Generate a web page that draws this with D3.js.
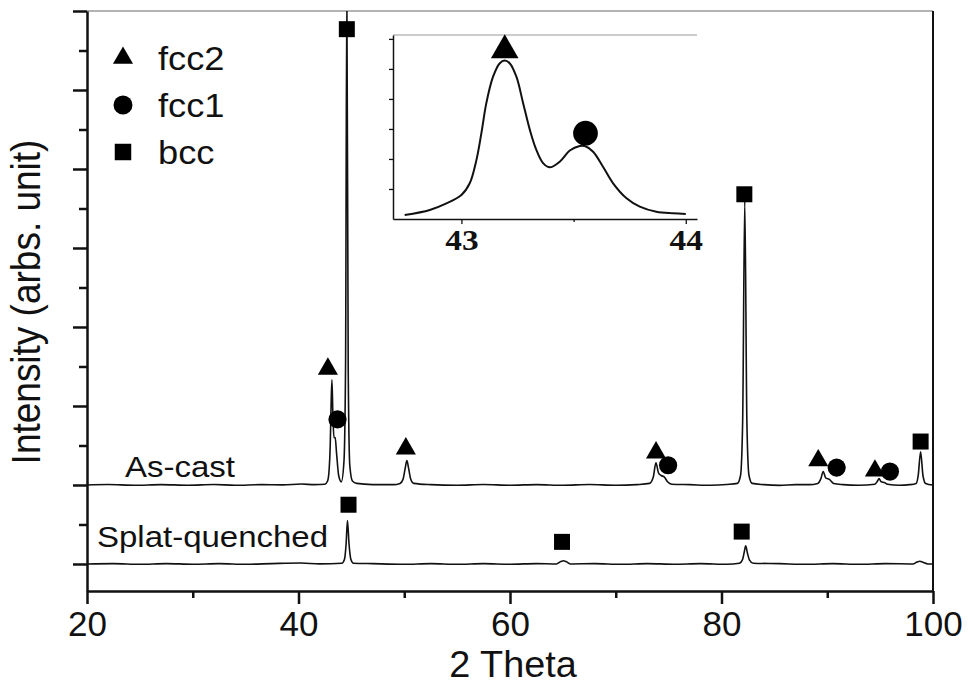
<!DOCTYPE html>
<html>
<head>
<meta charset="utf-8">
<script src="https://cdn.jsdelivr.net/npm/d3@7"></script>
<style>
  body { margin: 0; background: #fff; }
  svg { display: block; }
  .sans { font-family: "Liberation Sans", Arial, sans-serif; fill: #111; }
  .serif { font-family: "Liberation Serif", "Times New Roman", serif; font-weight: bold; fill: #111; }
</style>
</head>
<body>
<svg id="chart" width="971" height="693"></svg>
<script>
// ---- data (2 Theta in degrees, intensity in arbitrary units above each pattern's baseline) ----
const asCastTheta = [20, 22, 24.5, 27, 29.5, 32, 34, 36.5, 38.5, 40.3, 41.5, 42.5, 42.75, 42.9, 43.0, 43.08, 43.16, 43.25, 43.35, 43.47, 43.6, 43.8, 44.05,
  44.3, 44.45, 44.57, 44.7, 44.85, 45.1, 45.5, 47, 49, 49.6, 49.9, 50.1, 50.25, 50.4, 50.6, 50.9, 52.5, 55, 57.5, 60, 62.5, 65, 67.5, 70, 72,
  73.2, 73.55, 73.8, 74.05, 74.3, 74.6, 74.9, 75.3, 77, 79, 80.5, 81.5, 81.8, 82.0, 82.2, 82.4, 82.6, 82.9, 84, 85.5, 87, 88.3,
  89.1, 89.4, 89.62, 89.85, 90.2, 90.6, 91.5, 93, 94.5, 94.75, 94.9, 95.1, 95.4, 95.7, 96.8, 97.8, 98.4, 98.6, 98.83, 99.05, 99.3, 100];
const asCastInt = [0, 0.006, -0.004, 0.005, -0.003, 0.006, -0.004, 0.005, 0.002, 0.012, 0.004, 0.01, 0.05, 0.2, 0.5, 1.0, 1.33, 0.9, 0.6, 0.6, 0.4, 0.12, 0.04,
  0.3, 1.5, 6.3, 1.5, 0.25, 0.05, 0.02, 0.005, 0.004, 0.02, 0.08, 0.22, 0.31, 0.22, 0.08, 0.02, 0.004, -0.004, 0.006, -0.003, 0.005, -0.004, 0.006, -0.004, 0.005,
  0.02, 0.1, 0.28, 0.15, 0.12, 0.1, 0.04, 0.01, 0.004, -0.004, 0.006, 0.02, 0.12, 0.8, 3.6, 0.8, 0.12, 0.02, 0.004, -0.005, 0.005, 0.004,
  0.02, 0.08, 0.17, 0.09, 0.07, 0.02, 0.005, -0.004, 0.01, 0.05, 0.08, 0.04, 0.03, 0.01, -0.004, 0.004, 0.02, 0.12, 0.42, 0.12, 0.02, 0];

const splatTheta = [20, 22.5, 25, 27.5, 30, 32.5, 35, 37.5, 40.2, 42, 44.1, 44.35, 44.5, 44.63, 44.78, 44.95, 45.2, 47, 50, 52.5, 55, 57.5, 60, 62.5,
  64.4, 64.8, 65.05, 65.3, 65.7, 68, 70.5, 73, 75.5, 78, 80.5, 81.7, 82.0, 82.15, 82.29, 82.45, 82.65, 83.0, 85.5, 88, 90.5, 93, 95.5,
  98.1, 98.5, 98.75, 99.1, 99.5, 100];
const splatInt = [0, 0.004, -0.004, 0.005, -0.003, 0.004, -0.004, 0.005, 0.012, 0.002, 0.01, 0.06, 0.25, 0.55, 0.25, 0.06, 0.01, 0.004, -0.004, 0.005, -0.004, 0.004, -0.003, 0.005,
  0, 0.03, 0.04, 0.03, 0, 0.004, -0.004, 0.005, -0.003, 0.004, -0.004, 0.01, 0.06, 0.15, 0.23, 0.14, 0.05, 0.01, 0.004, -0.004, 0.005, -0.004, 0.004,
  0, 0.025, 0.035, 0.02, 0, 0];

const seriesNames = ["As-cast", "Splat-quenched"];
const seriesOffsets = [1, 0];

// phase markers: [2 Theta, absolute intensity on the stacked scale]
const fcc2Marks = [[42.78, 2.47], [50.15, 1.46], [73.81, 1.41], [89.15, 1.31], [94.51, 1.18]];
const fcc1Marks = [[43.69, 1.83], [74.95, 1.25], [90.89, 1.22], [95.93, 1.17]];
const bccMarks = [[44.57, 6.77], [82.16, 4.68], [98.83, 1.55], [44.73, 0.75], [64.92, 0.28], [81.91, 0.41]];

const legendLabels = ["fcc2", "fcc1", "bcc"];

const xMajorTicks = [20, 40, 60, 80, 100];
const xMinorTicks = [30, 50, 70, 90];
const yMajorTicks = [0, 1, 2, 3, 4, 5, 6, 7];
const yMinorTicks = [0.5, 1.5, 2.5, 3.5, 4.5, 5.5, 6.5];

// inset: zoom of the fcc doublet near 43 degrees
const insetTheta = [42.747, 42.859, 42.933, 43.0, 43.037, 43.067, 43.089, 43.111, 43.141, 43.171, 43.193, 43.215, 43.245, 43.275, 43.305,
  43.334, 43.364, 43.394, 43.438, 43.483, 43.527, 43.55, 43.587, 43.631, 43.676, 43.736, 43.795, 43.869, 43.943, 44.0];
const insetInt = [0.13, 0.3, 0.52, 0.8, 1.19, 1.97, 2.86, 3.86, 4.74, 5.19, 5.28, 5.19, 4.74, 3.86, 2.97,
  2.3, 1.86, 1.72, 1.91, 2.28, 2.43, 2.43, 2.24, 1.74, 1.19, 0.69, 0.41, 0.24, 0.19, 0.17];
const insetMarks = [["fcc2", 43.193, 5.62], ["fcc1", 43.553, 2.86]];
const insetMajorTicks = [43, 44];
const insetMinorTicks = [43.5];
const insetYTicks = [1, 2, 3, 4, 5, 6];

// ---- layout ----
const svg = d3.select("#chart");
const plotL = 87, plotR = 933, plotT = 11, plotB = 591;

const x = d3.scaleLinear().domain([20, 100]).range([plotL, plotR]);
const y = d3.scaleLinear().domain([-0.342, 7]).range([plotB, plotT]);

const shapes = { fcc2: d3.symbolTriangle, fcc1: d3.symbolCircle, bcc: d3.symbolSquare };

svg.append("defs").append("clipPath").attr("id", "plotClip")
  .append("rect").attr("x", plotL).attr("y", plotT).attr("width", plotR - plotL).attr("height", plotB - plotT);

// frame: grey top line, right line
svg.append("line").attr("x1", plotL).attr("x2", plotR).attr("y1", plotT).attr("y2", plotT)
  .attr("stroke", "#9a9a9a").attr("stroke-width", 1.5);
svg.append("line").attr("x1", plotR).attr("x2", plotR).attr("y1", plotT).attr("y2", plotB)
  .attr("stroke", "#111").attr("stroke-width", 2);

// patterns
const line = d3.line().curve(d3.curveMonotoneX);
const patterns = [
  { theta: asCastTheta, inten: asCastInt, off: seriesOffsets[0] },
  { theta: splatTheta, inten: splatInt, off: seriesOffsets[1] }
];
svg.append("g").attr("clip-path", "url(#plotClip)")
  .selectAll("path").data(patterns).join("path")
  .attr("fill", "none").attr("stroke", "#111").attr("stroke-width", 1.6)
  .attr("d", p => line(p.theta.map((t, i) => [x(t), y(p.inten[i] + p.off)])));

// main axes
const mainAxes = svg.append("g");
const xAxis = mainAxes.append("g").attr("transform", `translate(0,${plotB})`)
  .call(d3.axisBottom(x).tickValues(xMajorTicks).tickSize(13).tickSizeOuter(0).tickPadding(6));
mainAxes.append("g").attr("transform", `translate(0,${plotB})`)
  .call(d3.axisBottom(x).tickValues(xMinorTicks).tickSize(7).tickFormat("")).select(".domain").remove();
xAxis.selectAll("text").attr("class", "sans").attr("font-size", 35).attr("dy", "0.75em");

mainAxes.append("g").attr("transform", `translate(${plotL},0)`)
  .call(d3.axisLeft(y).tickValues(yMajorTicks).tickSize(14).tickSizeOuter(0).tickFormat(""));
mainAxes.append("g").attr("transform", `translate(${plotL},0)`)
  .call(d3.axisLeft(y).tickValues(yMinorTicks).tickSize(8).tickFormat("")).select(".domain").remove();

mainAxes.selectAll(".domain").attr("stroke", "#111").attr("stroke-width", 2.5);
mainAxes.selectAll(".tick line").attr("stroke", "#111").attr("stroke-width", 2.5);

svg.append("text").attr("class", "sans").attr("font-size", 36)
  .attr("text-anchor", "middle")
  .attr("transform", `translate(${(plotL + plotR) / 2 + 3},677) scale(1.05,1)`)
  .text("2 Theta");
svg.append("text").attr("class", "sans").attr("font-size", 37)
  .attr("text-anchor", "middle")
  .attr("transform", `translate(40,${(plotT + plotB) / 2 + 1}) rotate(-90) scale(1,1.1)`)
  .text("Intensity (arbs. unit)");

// series labels
svg.selectAll("text.series").data(seriesNames).join("text")
  .attr("class", "sans series").attr("font-size", 30)
  .attr("transform", (d, i) => i === 0
    ? `translate(125,${y(seriesOffsets[0]) - 8}) scale(1.1,1)`
    : `translate(97,${y(seriesOffsets[1]) - 17}) scale(1.1,1)`)
  .text(d => d);

// phase markers
const marks = [].concat(
  fcc2Marks.map(m => ["fcc2", m[0], m[1]]),
  fcc1Marks.map(m => ["fcc1", m[0], m[1]]),
  bccMarks.map(m => ["bcc", m[0], m[1]])
);
const markSize = { fcc2: 175, fcc1: 260, bcc: 256 };
svg.append("g").selectAll("path").data(marks).join("path")
  .attr("transform", d => `translate(${x(d[1])},${y(d[2])})`)
  .attr("d", d => d3.symbol(shapes[d[0]], markSize[d[0]])())
  .attr("fill", "#000");

// legend
const legendSize = { fcc2: 175, fcc1: 283, bcc: 272 };
const legend = svg.append("g").selectAll("g").data(legendLabels).join("g")
  .attr("transform", (d, i) => `translate(123,${58 + i * 47})`);
legend.append("path").attr("d", d => d3.symbol(shapes[d], legendSize[d])()).attr("fill", "#000");
legend.append("text").attr("class", "sans").attr("font-size", 33)
  .attr("transform", "translate(35,12) scale(1.1,1)").text(d => d);

// ---- inset ----
const ix = d3.scaleLinear().domain([42.695, 44.05]).range([393, 697]);
const iy = d3.scaleLinear().domain([0, 6.13]).range([219, 35]);

svg.append("line").attr("x1", ix.range()[0]).attr("x2", ix.range()[1]).attr("y1", iy(6.13)).attr("y2", iy(6.13))
  .attr("stroke", "#9a9a9a").attr("stroke-width", 1.2);

const insetAxes = svg.append("g");
const insetX = insetAxes.append("g").attr("transform", `translate(0,${iy(0)})`)
  .call(d3.axisBottom(ix).tickValues(insetMajorTicks).tickFormat(d3.format("d"))
    .tickSize(5).tickSizeOuter(0).tickPadding(3));
insetAxes.append("g").attr("transform", `translate(0,${iy(0)})`)
  .call(d3.axisBottom(ix).tickValues(insetMinorTicks).tickSize(3).tickFormat("")).select(".domain").remove();
insetX.selectAll("text").attr("class", "serif").attr("font-size", 29).attr("dy", "0.8em")
  .attr("transform", "scale(1.15,1)");
insetAxes.append("g").attr("transform", `translate(${ix.range()[0]},0)`)
  .call(d3.axisLeft(iy).tickValues(insetYTicks).tickSize(4).tickSizeOuter(0).tickFormat(""));

insetAxes.selectAll(".domain").attr("stroke", "#111").attr("stroke-width", 1.5);
insetAxes.selectAll(".tick line").attr("stroke", "#111").attr("stroke-width", 1.3);

svg.append("path")
  .attr("fill", "none").attr("stroke", "#111").attr("stroke-width", 2)
  .attr("d", d3.line().curve(d3.curveCatmullRom)(insetTheta.map((t, i) => [ix(t), iy(insetInt[i])])));

const insetSize = { fcc2: 330, fcc1: 480 };
svg.append("g").selectAll("path").data(insetMarks).join("path")
  .attr("transform", d => `translate(${ix(d[1])},${iy(d[2])})`)
  .attr("d", d => d3.symbol(shapes[d[0]], insetSize[d[0]])())
  .attr("fill", "#000");
</script>
</body>
</html>
